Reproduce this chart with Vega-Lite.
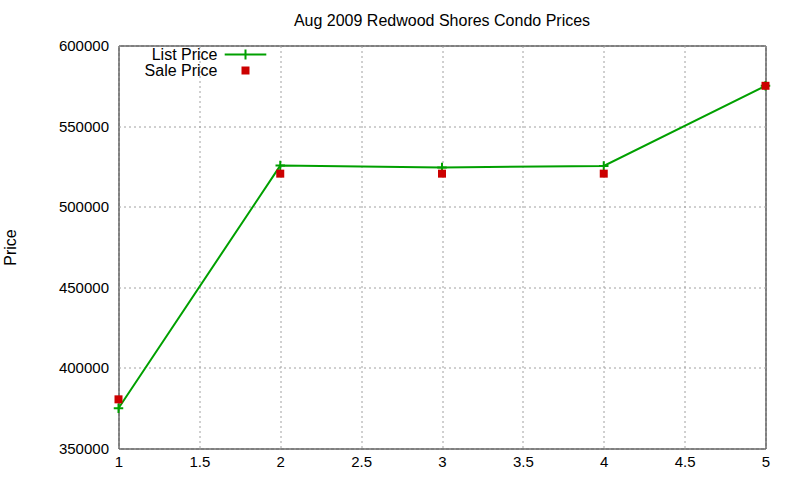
{
  "$schema": "https://vega.github.io/schema/vega-lite/v6.json",
  "width": 647,
  "height": 403,
  "autosize": {"type": "none"},
  "padding": {"left": 118.5, "top": 45.5, "right": 34.5, "bottom": 31.5},
  "background": "white",
  "config": {
    "font": "Liberation Sans",
    "view": {"stroke": "black", "strokeWidth": 1},
    "axis": {
      "labelFont": "Liberation Sans",
      "labelFontSize": 15,
      "labelColor": "black",
      "titleFont": "Liberation Sans",
      "titleFontSize": 16,
      "titleFontWeight": "normal",
      "titleColor": "black",
      "domain": false,
      "ticks": false,
      "gridColor": "#a0a0a0",
      "gridDash": [2, 3],
      "gridWidth": 1,
      "gridOpacity": 1
    }
  },
  "title": {
    "text": "Aug 2009 Redwood Shores Condo Prices",
    "font": "Liberation Sans",
    "fontSize": 16,
    "fontWeight": "normal",
    "color": "black",
    "offset": 10
  },
  "data": {
    "values": [
      {"x": 1, "series": "List Price", "price": 375000},
      {"x": 2, "series": "List Price", "price": 525500},
      {"x": 3, "series": "List Price", "price": 524300},
      {"x": 4, "series": "List Price", "price": 525300},
      {"x": 5, "series": "List Price", "price": 575000},
      {"x": 1, "series": "Sale Price", "price": 380500},
      {"x": 2, "series": "Sale Price", "price": 520500},
      {"x": 3, "series": "Sale Price", "price": 520500},
      {"x": 4, "series": "Sale Price", "price": 520500},
      {"x": 5, "series": "Sale Price", "price": 575000}
    ]
  },
  "encoding": {
    "x": {
      "field": "x",
      "type": "quantitative",
      "scale": {"domain": [1, 5], "nice": false, "zero": false},
      "axis": {"title": null, "values": [1, 1.5, 2, 2.5, 3, 3.5, 4, 4.5, 5], "format": "~g", "labelPadding": 6, "labelFlush": false}
    },
    "y": {
      "field": "price",
      "type": "quantitative",
      "scale": {"domain": [350000, 600000], "nice": false, "zero": false},
      "axis": {"title": "Price", "values": [350000, 400000, 450000, 500000, 550000, 600000], "format": "d", "labelPadding": 10, "titlePadding": 40, "labelFlush": false}
    }
  },
  "layer": [
    {
      "transform": [{"filter": "datum.series === 'List Price'"}],
      "mark": {"type": "line", "color": "#00a000", "strokeWidth": 2, "clip": false},
      "encoding": {}
    },
    {
      "transform": [{"filter": "datum.series === 'List Price'"}],
      "mark": {"type": "point", "shape": "M-1,0H1M0,-1V1", "filled": false, "stroke": "#00a000", "strokeWidth": 2, "size": 90, "opacity": 1, "clip": false},
      "encoding": {}
    },
    {
      "transform": [{"filter": "datum.series === 'Sale Price'"}],
      "mark": {"type": "point", "filled": true, "opacity": 1, "size": 256, "clip": false},
      "encoding": {
        "color": {
          "field": "series",
          "type": "nominal",
          "scale": {"domain": ["List Price", "Sale Price"], "range": ["#00a000", "#cc0000"]},
          "legend": {
            "title": null,
            "orient": "none",
            "legendX": 119,
            "legendY": 1,
            "padding": 0,
            "rowPadding": 0,
            "symbolSize": 256,
            "symbolOpacity": 1,
            "symbolStrokeWidth": 0,
            "labelFont": "Liberation Sans",
            "labelFontSize": 16,
            "labelColor": "black",
            "labelAlign": "right",
            "labelOffset": -36
          }
        },
        "shape": {
          "field": "series",
          "type": "nominal",
          "scale": {
            "domain": ["List Price", "Sale Price"],
            "range": [
              "M-2.6,-0.125H-0.125V-0.625H0.125V-0.125H2.6V0.125H0.125V0.625H-0.125V0.125H-2.6Z",
              "M-0.5,-0.5H0.5V0.5H-0.5Z"
            ]
          },
          "legend": {
            "title": null,
            "orient": "none",
            "legendX": 119,
            "legendY": 1,
            "padding": 0,
            "rowPadding": 0,
            "symbolSize": 256,
            "labelFontSize": 16,
            "labelAlign": "right",
            "labelOffset": -36
          }
        }
      }
    }
  ]
}
